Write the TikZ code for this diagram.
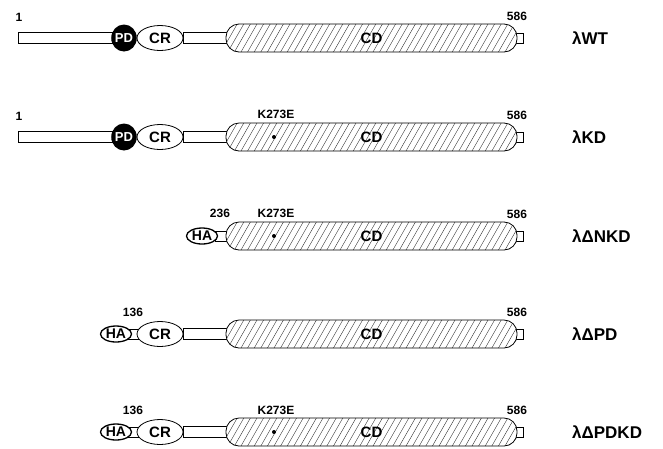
\documentclass[tikz,border=0pt]{standalone}
\usepackage{fontspec}
\setmainfont{Liberation Sans}
\usetikzlibrary{shapes.geometric}
\tikzset{
  bar/.style={draw, fill=white, line width=0.8pt},
  cdbox/.style={draw, fill=white, line width=0.8pt, rounded corners=13pt,
    minimum width=291pt, minimum height=28pt, inner sep=0pt,
    font=\bfseries\fontsize{15}{15}\selectfont,
    path picture={\foreach \k in {0,...,46}
      \draw[line width=0.35pt, black!85] ([xshift=\k*6.6pt-18pt]path picture bounding box.south west) -- ++(16pt,28pt);}},
  crell/.style={ellipse, draw, fill=white, line width=0.8pt, minimum width=46pt,
    minimum height=25pt, inner sep=0pt, font=\bfseries\fontsize{15}{15}\selectfont},
  pdell/.style={ellipse, fill=black, text=white, minimum width=25pt,
    minimum height=27pt, inner sep=0pt, font=\bfseries\fontsize{13}{13}\selectfont},
  haell/.style={ellipse, draw, fill=white, line width=1.3pt, minimum width=31pt,
    minimum height=16pt, inner sep=0pt, font=\bfseries\fontsize{14}{14}\selectfont},
  num/.style={font=\bfseries\fontsize{12}{12}\selectfont, inner sep=0pt},
  rlabel/.style={anchor=west, font=\bfseries\fontsize{17}{17}\selectfont, inner sep=0pt},
  mut/.style={circle, fill=black, inner sep=0pt, minimum size=4pt}
}
\begin{document}
\begin{tikzpicture}[x=1pt,y=-1pt]
\useasboundingbox (0,0) rectangle (663,448);

% ---------- row 1 : lambda WT ----------
\coordinate (n1) at (18,38);
\draw[bar] (n1) ++(0,-5.5) rectangle (118,43.5);
\draw[bar] (183,32.5) rectangle (228,43.5);
\draw[bar] (515,33) rectangle (523,43);
\node[cdbox] (cd1) at (371.5,38) {CD};
\node[pdell] (pd1) at (124,38) {PD};
\node[crell] (cr1) at (160,38) {CR};
\node[num] (l1a) at (19,17) {1};
\node[num] (l1b) at (517,16) {586};
\node[rlabel] (r1) at (572,38) {λWT};

% ---------- row 2 : lambda KD ----------
\coordinate (n2) at (18,137);
\draw[bar] (n2) ++(0,-5.5) rectangle (118,142.5);
\draw[bar] (183,131.5) rectangle (228,142.5);
\draw[bar] (515,132) rectangle (523,142);
\node[cdbox] (cd2) at (371.5,137) {CD};
\node[pdell] (pd2) at (124,137) {PD};
\node[crell] (cr2) at (160,137) {CR};
\node[mut] (m2) at (274,137) {};
\node[num] (l2a) at (19,116) {1};
\node[num] (l2k) at (276,114) {K273E};
\node[num] (l2b) at (517,115) {586};
\node[rlabel] (r2) at (572,137) {λKD};

% ---------- row 3 : lambda Delta NKD ----------
\draw[bar] (215,231) rectangle (228,241);
\draw[bar] (515,231) rectangle (523,241);
\node[cdbox] (cd3) at (371.5,236) {CD};
\node[haell] (ha3) at (202,236) {HA};
\node[mut] (m3) at (274,236) {};
\node[num] (l3a) at (220,213) {236};
\node[num] (l3k) at (276,213) {K273E};
\node[num] (l3b) at (517,214) {586};
\node[rlabel] (r3) at (572,236) {λΔNKD};

% ---------- row 4 : lambda Delta PD ----------
\draw[bar] (128,329) rectangle (140,339);
\draw[bar] (183,328.5) rectangle (228,339.5);
\draw[bar] (515,329) rectangle (523,339);
\node[cdbox] (cd4) at (371.5,334) {CD};
\node[haell] (ha4) at (116,334) {HA};
\node[crell] (cr4) at (160,334) {CR};
\node[num] (l4a) at (133,312) {136};
\node[num] (l4b) at (517,312) {586};
\node[rlabel] (r4) at (572,334) {λΔPD};

% ---------- row 5 : lambda Delta PDKD ----------
\draw[bar] (128,427) rectangle (140,437);
\draw[bar] (183,426.5) rectangle (228,437.5);
\draw[bar] (515,427) rectangle (523,437);
\node[cdbox] (cd5) at (371.5,432) {CD};
\node[haell] (ha5) at (116,432) {HA};
\node[crell] (cr5) at (160,432) {CR};
\node[mut] (m5) at (274,432) {};
\node[num] (l5a) at (133,410) {136};
\node[num] (l5k) at (276,410) {K273E};
\node[num] (l5b) at (517,410) {586};
\node[rlabel] (r5) at (572,432) {λΔPDKD};
\end{tikzpicture}
\end{document}
